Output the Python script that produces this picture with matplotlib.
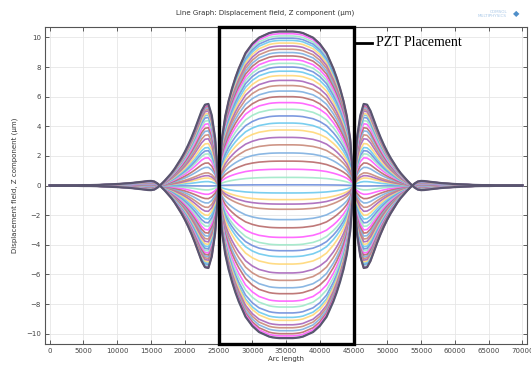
import numpy as np
import matplotlib
matplotlib.use("Agg")
import matplotlib.pyplot as plt
from matplotlib.patches import Rectangle
import matplotlib.transforms as mtransforms


# ---------------------------
# Data
# ---------------------------
# left half of the mode shape (arc length 0..35000), normalised so the
# centre lobe is 1; the right half is its mirror image
arc_half = [0, 1000, 2000, 3000, 4000, 5000, 6000, 7000, 8000, 9000,
            10000, 11000, 12000, 13000, 14000, 14500, 15000, 15500, 16000,
            16500, 17000, 17500, 18000, 18500, 19000, 19500, 20000, 20500,
            21000, 21500, 22000, 22500, 23000, 23500, 24000, 24500, 25000,
            25500, 26000, 26500, 27000, 27500, 28000, 28500, 29000, 29500,
            30000, 30500, 31000, 31500, 32000, 32500, 33000, 33500, 34000,
            34500, 35000]
shape_half = [0.002, 0.002, 0.002, 0.002, 0.002, 0.003, 0.003, 0.004, 0.006, 0.008,
              0.010, 0.013, 0.016, 0.021, 0.026, 0.029, 0.030, 0.026, 0.012,
              -0.008, -0.03, -0.055, -0.08, -0.11, -0.145, -0.18, -0.22, -0.265,
              -0.315, -0.37, -0.43, -0.49, -0.53, -0.535, -0.46, -0.31, 0.0,
              0.30, 0.45, 0.55, 0.63, 0.70, 0.76, 0.81, 0.86, 0.89,
              0.92, 0.94, 0.96, 0.97, 0.98, 0.99, 0.995, 0.998, 1.0,
              1.0, 1.0]

# centre value (um) of each curve, one per drawn line
centre_values = [10.4, 10.25, 10.1, 9.95, 9.8, 9.62, 9.42, 9.2, 8.98, 8.75,
                 8.5, 8.25, 8.0, 7.72, 7.42, 7.1, 6.75, 6.38, 6.0, 5.6,
                 5.15, 4.7, 4.22, 3.75, 3.25, 2.75, 2.2, 1.65, 1.1, 0.55,
                 0.05, -0.5, -0.95, -1.25, -1.6, -2.3, -2.85, -3.5, -4.0, -4.4,
                 -4.8, -5.3, -5.9, -6.4, -6.9, -7.3, -7.8, -8.2, -8.6, -8.9,
                 -9.1, -9.4, -9.6, -9.8, -10.0, -10.15, -10.3]

line_colors = ['#b86a6a', '#ff5cff', '#9fe8c8', '#6f8fdc', '#6cc9ee',
               '#ffd878', '#a866bb', '#c98a7a', '#7fb0e0']

x_ticks = [0, 5000, 10000, 15000, 20000, 25000, 30000, 35000,
           40000, 45000, 50000, 55000, 60000, 65000, 70000]
y_ticks = [-10, -8, -6, -4, -2, 0, 2, 4, 6, 8, 10]

pzt_start, pzt_end = 25000, 45000


def full_profile():
    """Mirror the left half around 35000 to get the whole shape"""
    arc = np.array(arc_half + [70000 - a for a in arc_half[-2::-1]], dtype=float)
    shape = np.array(shape_half + shape_half[-2::-1], dtype=float)
    return arc, shape


def main():
    arc, shape = full_profile()

    fig = plt.figure(figsize=(5.31, 3.66), dpi=100)
    ax = fig.add_axes([0.0847, 0.060, 0.908, 0.866])

    for i, c in enumerate(centre_values):
        col = line_colors[i % len(line_colors)]
        ax.plot(arc, c * shape, color=col, lw=1.2, alpha=0.9,
                solid_joinstyle='round', zorder=2)

    # darker outline on the extreme curves
    ax.plot(arc, centre_values[0] * shape, color='#5a5570', lw=1.6,
            solid_joinstyle='round', zorder=3)
    ax.plot(arc, centre_values[-1] * shape, color='#5a5570', lw=1.6,
            solid_joinstyle='round', zorder=3)

    ax.set_xlim(-700, 70700)
    ax.set_ylim(-10.7, 10.7)
    ax.set_xticks(x_ticks)
    ax.set_yticks(y_ticks)
    ax.tick_params(direction='in', length=3, width=0.6, labelsize=5,
                   colors='#444444', top=True, right=True, pad=3)
    ax.grid(True, color='#e6e6e6', lw=0.6, zorder=0)
    ax.set_axisbelow(True)
    for s in ax.spines.values():
        s.set_color('#555555')
        s.set_linewidth(0.8)

    ax.set_xlabel('Arc length', fontsize=5, color='#333333', labelpad=1)
    ax.set_ylabel('Displacement field, Z component (μm)', fontsize=5,
                  color='#333333', labelpad=6)
    fig.text(0.5, 0.965, 'Line Graph: Displacement field, Z component (μm)',
             ha='center', va='center', fontsize=5, color='#333333')

    # COMSOL logo text
    fig.text(0.955, 0.962, 'COMSOL\nMULTIPHYSICS', ha='right', va='center',
             fontsize=3, color='#a9c8e8', linespacing=0.9)
    fig.text(0.972, 0.962, '◆', ha='center', va='center', fontsize=6,
             color='#4f8fc9')

    # PZT placement box
    trans = mtransforms.blended_transform_factory(ax.transData, ax.transAxes)
    box = Rectangle((pzt_start, 0), pzt_end - pzt_start, 1, transform=trans,
                    fill=False, ec='black', lw=2.4, zorder=5, clip_on=False)
    ax.add_patch(box)
    ax.plot([pzt_end, 47700], [9.63, 9.63], color='black', lw=2, zorder=5,
            clip_on=False)
    ax.text(48300, 9.63, 'PZT Placement', fontsize=10, family='Liberation Serif',
            va='center', ha='left', zorder=6)

    fig.savefig('out.png', dpi=100)


if __name__ == "__main__":
    main()
